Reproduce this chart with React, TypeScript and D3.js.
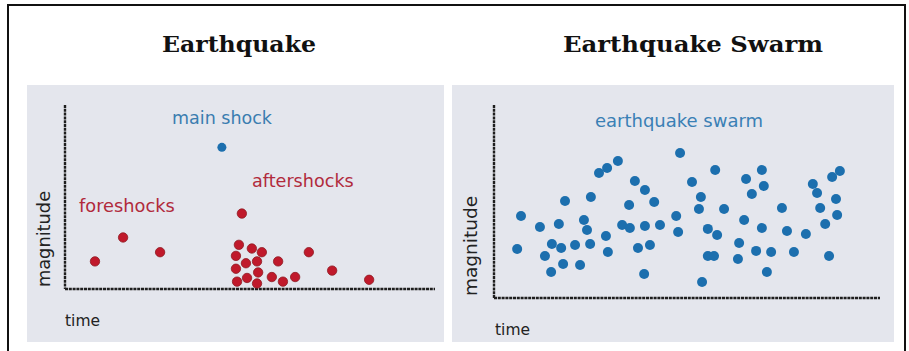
import React from "react";
import * as d3 from "d3";

// Left panel: time (0-100) vs magnitude (0-10)
const foreshockTime = [8.1, 15.7, 25.7];
const foreshockMag = [1.5, 2.8, 2.0];
const mainShockTime = [42.4];
const mainShockMag = [7.7];
const aftershockTime = [47.8, 47.0, 46.2, 46.2, 46.5, 48.9, 49.2, 50.5, 51.9, 52.2, 51.9, 53.2, 55.9, 57.6, 58.9, 62.2, 65.9, 72.2, 82.2];
const aftershockMag = [4.1, 2.4, 1.8, 1.1, 0.4, 1.4, 0.6, 2.2, 1.5, 0.9, 0.3, 2.0, 0.65, 1.5, 0.4, 0.65, 2.0, 1.0, 0.5];

// Right panel: swarm
const swarmTime = [6.0, 7.0, 11.9, 13.2, 14.8, 15.0, 16.8, 17.4, 17.9, 18.4, 21.0, 22.3, 23.3, 24.1, 24.9, 25.1, 27.2, 29.0, 29.3, 29.5, 32.1, 33.2, 35.0, 35.2, 36.5, 37.3, 38.9, 39.1, 39.1, 40.4, 41.5, 43.0, 47.2, 47.7, 48.2, 51.3, 53.1, 53.6, 53.9, 55.4, 55.4, 57.0, 57.3, 57.8, 59.6, 63.2, 63.5, 64.8, 65.3, 66.8, 67.9, 69.4, 69.4, 69.9, 70.7, 71.8, 74.6, 75.9, 77.7, 80.8, 82.6, 83.7, 84.5, 85.8, 86.8, 87.6, 88.6, 88.9, 89.6];
const swarmMag = [2.54, 4.25, 3.68, 2.18, 1.35, 2.8, 3.83, 2.59, 1.76, 5.03, 2.75, 1.71, 4.04, 3.52, 2.8, 5.23, 6.48, 3.21, 6.74, 2.38, 7.1, 3.78, 4.82, 3.63, 6.06, 2.59, 1.24, 5.6, 3.73, 2.75, 4.97, 3.78, 4.25, 3.42, 7.51, 6.01, 4.61, 5.23, 0.83, 3.58, 2.18, 2.18, 6.63, 3.26, 4.61, 2.02, 2.85, 4.04, 6.17, 5.39, 2.44, 3.63, 6.63, 5.8, 1.35, 2.38, 4.66, 3.47, 2.38, 3.32, 5.91, 5.44, 4.66, 3.83, 2.18, 6.27, 5.13, 4.3, 6.58];

const titles = ["Earthquake", "Earthquake Swarm"];
const leftLabels = ["main shock", "foreshocks", "aftershocks"];
const rightLabel = "earthquake swarm";
const axisLabels = ["magnitude", "time"];

const RED = "#c0192b";
const RED_EDGE = "#8e1a22";
const BLUE = "#1c6fae";
const PANEL = "#e4e6ed";
const SANS = "'DejaVu Sans', Verdana, sans-serif";

export default function App() {
  const xL = d3.scaleLinear().domain([0, 100]).range([65, 435]);
  const yL = d3.scaleLinear().domain([0, 10]).range([289, 105]);
  const xR = d3.scaleLinear().domain([0, 100]).range([494, 880]);
  const yR = d3.scaleLinear().domain([0, 10]).range([298, 105]);

  const axisStyle = { stroke: "#1e1e1e", strokeWidth: 2.4, strokeDasharray: "3,0.8" };

  return (
    <svg
      width={909}
      height={351}
      style={{ position: "absolute", left: 0, top: 0, background: "#fff" }}
    >
      <rect x={0} y={0} width={909} height={351} fill="#fff" />
      <rect x={8} y={5} width={897} height={360} fill="none" stroke="#111" strokeWidth={2} />

      <text x={239} y={52} textAnchor="middle" fontFamily="'DejaVu Serif', Georgia, serif" fontWeight="bold" fontSize={22.5} fill="#111" textLength={154} lengthAdjust="spacingAndGlyphs">
        {titles[0]}
      </text>
      <text x={693} y={52} textAnchor="middle" fontFamily="'DejaVu Serif', Georgia, serif" fontWeight="bold" fontSize={22.5} fill="#111" textLength={260} lengthAdjust="spacingAndGlyphs">
        {titles[1]}
      </text>

      <rect x={27} y={85} width={417} height={257} fill={PANEL} />
      <rect x={452} y={85} width={442} height={257} fill={PANEL} />

      <line x1={xL(0)} y1={yL(10)} x2={xL(0)} y2={yL(0)} style={axisStyle} />
      <line x1={xL(0)} y1={yL(0)} x2={xL(100)} y2={yL(0)} style={axisStyle} />
      <line x1={xR(0)} y1={yR(10)} x2={xR(0)} y2={yR(0)} style={axisStyle} />
      <line x1={xR(0)} y1={yR(0)} x2={xR(100)} y2={yR(0)} style={axisStyle} />

      <text x={222} y={124} textAnchor="middle" fontFamily={SANS} fontSize={17.5} fill="#3a7db0">
        {leftLabels[0]}
      </text>
      <text x={79} y={212} fontFamily={SANS} fontSize={17.8} fill="#b12a3c">
        {leftLabels[1]}
      </text>
      <text x={252} y={187} fontFamily={SANS} fontSize={17.6} fill="#b12a3c">
        {leftLabels[2]}
      </text>
      <text transform="translate(50,239) rotate(-90)" textAnchor="middle" fontFamily={SANS} fontSize={17.8} fill="#222">
        {axisLabels[0]}
      </text>
      <text x={65} y={326} fontFamily={SANS} fontSize={15.5} fill="#222">
        {axisLabels[1]}
      </text>

      <text x={679} y={127} textAnchor="middle" fontFamily={SANS} fontSize={18} fill="#3a80b5">
        {rightLabel}
      </text>
      <text transform="translate(477,246) rotate(-90)" textAnchor="middle" fontFamily={SANS} fontSize={18.5} fill="#222">
        {axisLabels[0]}
      </text>
      <text x={495} y={335} fontFamily={SANS} fontSize={15.5} fill="#222">
        {axisLabels[1]}
      </text>

      {foreshockTime.map((t, i) => (
        <circle key={"f" + i} cx={xL(t)} cy={yL(foreshockMag[i])} r={4.7} fill={RED} stroke={RED_EDGE} strokeWidth={0.8} />
      ))}
      {aftershockTime.map((t, i) => (
        <circle key={"a" + i} cx={xL(t)} cy={yL(aftershockMag[i])} r={4.7} fill={RED} stroke={RED_EDGE} strokeWidth={0.8} />
      ))}
      {mainShockTime.map((t, i) => (
        <circle key={"m" + i} cx={xL(t)} cy={yL(mainShockMag[i])} r={4.5} fill={BLUE} />
      ))}

      {swarmTime.map((t, i) => (
        <circle key={"s" + i} cx={xR(t)} cy={yR(swarmMag[i])} r={5} fill={BLUE} />
      ))}
    </svg>
  );
}
